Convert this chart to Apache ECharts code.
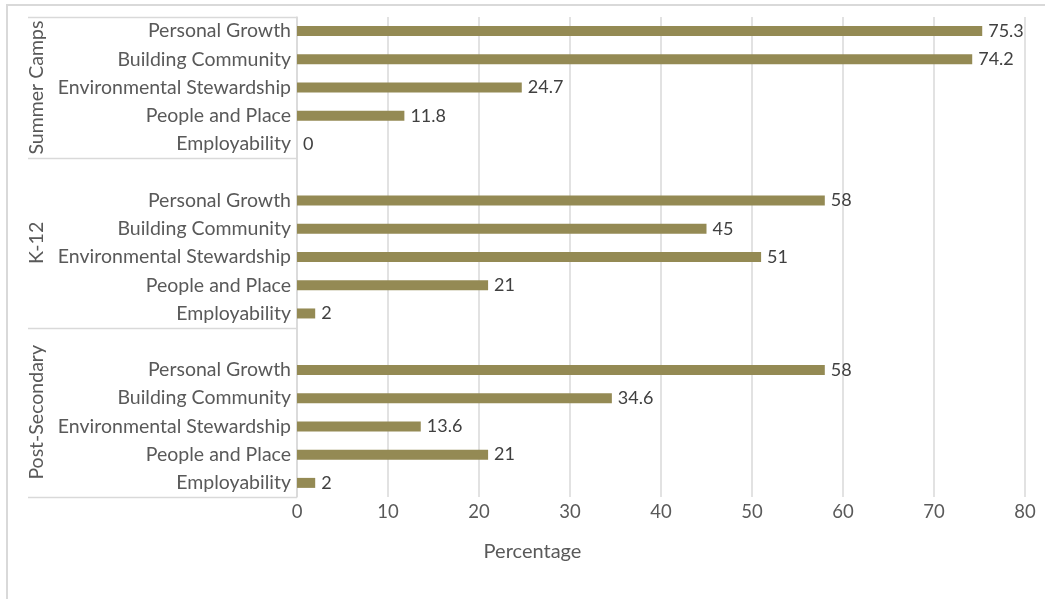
<!DOCTYPE html>
<html>
<head>
<meta charset="utf-8">
<script src="https://cdn.jsdelivr.net/npm/echarts@6/dist/echarts.min.js"></script>
<style>
  html, body { margin: 0; padding: 0; background: #ffffff; }
  #chart { width: 1045px; height: 599px; }
</style>
</head>
<body>
<div id="chart"></div>
<script>
// Program groups and the outcome themes reported for each
const groups = ['Summer Camps', 'K-12', 'Post-Secondary'];
const themes = ['Personal Growth', 'Building Community', 'Environmental Stewardship', 'People and Place', 'Employability'];

// Percentage of responses per theme, in theme order
const summerCamps = [75.3, 74.2, 24.7, 11.8, 0];
const k12 = [58, 45, 51, 21, 2];
const postSecondary = [58, 34.6, 13.6, 21, 2];

// Value axis
const xMin = 0;
const xMax = 80;
const xStep = 10;
const xTitle = 'Percentage';

const groupValues = [summerCamps, k12, postSecondary];

// Flatten into rows; a blank spacer row opens every group after the first
const rowLabels = [];
const rowValues = [];
const groupSpans = []; // [firstRow, lastRow] for each group
groups.forEach(function (g, gi) {
  const start = rowLabels.length;
  if (gi > 0) { rowLabels.push(''); rowValues.push('-'); }
  themes.forEach(function (t, ti) {
    rowLabels.push(t);
    rowValues.push(groupValues[gi][ti]);
  });
  groupSpans.push([start, rowLabels.length - 1]);
});

const FONT = 'Lato, "Open Sans", sans-serif';
const GRID_COLOR = '#d9d9d9';
const TEXT_COLOR = '#595959';

const chart = echarts.init(document.getElementById('chart'), null, { renderer: 'canvas' });

chart.setOption({
  animation: false,
  backgroundColor: '#ffffff',
  grid: { left: 297, right: 20, top: 17, bottom: 102, containLabel: false },
  xAxis: {
    type: 'value',
    min: xMin,
    max: xMax,
    interval: xStep,
    axisLine: { show: false },
    axisTick: { show: false },
    splitLine: { show: true, lineStyle: { color: GRID_COLOR, width: 1.5 } },
    axisLabel: { color: TEXT_COLOR, fontFamily: FONT, fontSize: 18.5, margin: 6 }
  },
  yAxis: {
    type: 'category',
    inverse: true,
    data: rowLabels,
    axisLine: { show: true, lineStyle: { color: GRID_COLOR, width: 1.5 } },
    axisTick: { show: false },
    splitLine: { show: false },
    axisLabel: { color: TEXT_COLOR, fontFamily: FONT, fontSize: 19.5, margin: 6, interval: 0 }
  },
  series: [{
    type: 'bar',
    data: rowValues,
    barWidth: 10,
    itemStyle: { color: '#948A54' },
    label: {
      show: true,
      position: 'right',
      distance: 6,
      color: '#404040',
      fontFamily: FONT,
      fontSize: 18
    }
  }]
});

// Group dividers, group titles, axis title and chart frame, placed via the axis scales
function drawOverlay() {
  const yAt = function (i) { return chart.convertToPixel({ yAxisIndex: 0 }, i); };
  const band = yAt(1) - yAt(0);
  const x0 = chart.convertToPixel({ xAxisIndex: 0 }, xMin);
  const x1 = chart.convertToPixel({ xAxisIndex: 0 }, xMax);
  const dividerLeft = 28;
  const elements = [];

  // chart frame (only its top and left edges fall inside the page)
  elements.push({
    type: 'rect',
    shape: { x: 6, y: 4, width: 1045, height: 2 },
    style: { fill: GRID_COLOR },
    z: 100,
    silent: true
  });
  elements.push({
    type: 'rect',
    shape: { x: 6, y: 4, width: 2, height: 600 },
    style: { fill: GRID_COLOR },
    z: 100,
    silent: true
  });

  const edges = [];
  groupSpans.forEach(function (span, gi) {
    const top = yAt(span[0]) - band / 2;
    const bottom = yAt(span[1]) + band / 2;
    if (gi === 0) edges.push(top);
    edges.push(bottom);
    elements.push({
      type: 'text',
      x: 37,
      y: (top + bottom) / 2,
      rotation: Math.PI / 2,
      style: {
        text: groups[gi],
        fill: TEXT_COLOR,
        font: '19.5px ' + FONT,
        textAlign: 'center',
        textVerticalAlign: 'middle'
      },
      silent: true
    });
  });
  edges.forEach(function (y) {
    const yy = Math.round(y) + 0.5;
    elements.push({
      type: 'line',
      shape: { x1: dividerLeft, y1: yy, x2: x0, y2: yy },
      style: { stroke: GRID_COLOR, lineWidth: 1.5 },
      silent: true
    });
  });

  // axis title, centred under the whole axis area including category labels
  const axisBottom = yAt(rowLabels.length - 1) + band / 2;
  elements.push({
    type: 'text',
    x: (dividerLeft + x1) / 2 + 6,
    y: axisBottom + 55,
    style: {
      text: xTitle,
      fill: TEXT_COLOR,
      font: '20px ' + FONT,
      textAlign: 'center',
      textVerticalAlign: 'middle'
    },
    silent: true
  });

  chart.setOption({ graphic: elements });
}

drawOverlay();
</script>
</body>
</html>
